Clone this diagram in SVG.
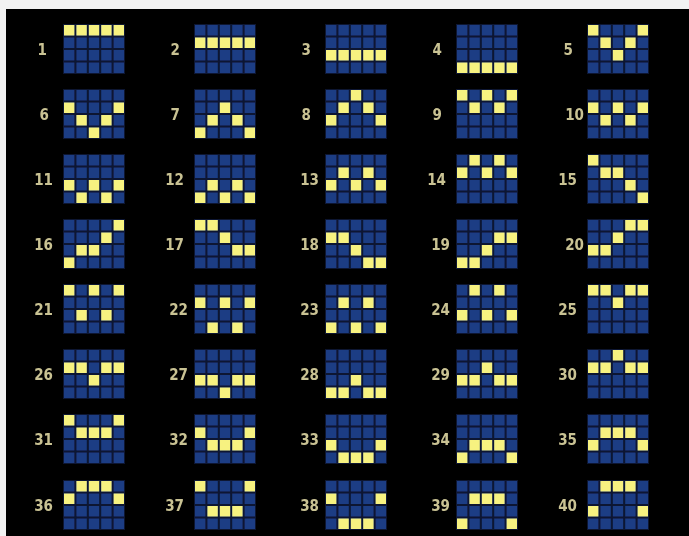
<svg xmlns="http://www.w3.org/2000/svg" xmlns:xlink="http://www.w3.org/1999/xlink" width="689" height="536" viewBox="0 0 689 536">
<style>
.bg{fill:#000000}
.frame{fill:#0a1430}
.cell{fill:#1f3d84}
.on{fill:#f7f280}
.lbl{font-family:"DejaVu Sans Condensed","Liberation Sans",sans-serif;font-size:15px;font-weight:bold;fill:#c9c293;text-anchor:end}
</style>
<defs>
<filter id="soft" x="-5%" y="-5%" width="110%" height="110%"><feGaussianBlur stdDeviation="0.7"/></filter>
<rect id="on" class="on" width="10.4" height="10.5"/>
<g id="grid">
<rect class="frame" x="0" y="0" width="62" height="50"/>
<g class="cell">
<rect x="1" y="1" width="10.4" height="10.5"/><rect x="13.4" y="1" width="10.4" height="10.5"/><rect x="25.8" y="1" width="10.4" height="10.5"/><rect x="38.2" y="1" width="10.4" height="10.5"/><rect x="50.6" y="1" width="10.4" height="10.5"/>
<rect x="1" y="13.5" width="10.4" height="10.5"/><rect x="13.4" y="13.5" width="10.4" height="10.5"/><rect x="25.8" y="13.5" width="10.4" height="10.5"/><rect x="38.2" y="13.5" width="10.4" height="10.5"/><rect x="50.6" y="13.5" width="10.4" height="10.5"/>
<rect x="1" y="26" width="10.4" height="10.5"/><rect x="13.4" y="26" width="10.4" height="10.5"/><rect x="25.8" y="26" width="10.4" height="10.5"/><rect x="38.2" y="26" width="10.4" height="10.5"/><rect x="50.6" y="26" width="10.4" height="10.5"/>
<rect x="1" y="38.5" width="10.4" height="10.5"/><rect x="13.4" y="38.5" width="10.4" height="10.5"/><rect x="25.8" y="38.5" width="10.4" height="10.5"/><rect x="38.2" y="38.5" width="10.4" height="10.5"/><rect x="50.6" y="38.5" width="10.4" height="10.5"/>
</g>
</g>
</defs>
<rect x="0" y="0" width="689" height="536" fill="#f2f2f2"/>
<rect class="bg" x="6" y="9" width="683" height="527"/>
<g id="connectors"/>
<g filter="url(#soft)">
<g id="line-1" transform="translate(63,24)"><use href="#grid"/><use href="#on" x="1" y="1"/><use href="#on" x="13.4" y="1"/><use href="#on" x="25.8" y="1"/><use href="#on" x="38.2" y="1"/><use href="#on" x="50.6" y="1"/><text class="lbl" x="-16" y="31">1</text></g>
<g id="line-2" transform="translate(194,24)"><use href="#grid"/><use href="#on" x="1" y="13.5"/><use href="#on" x="13.4" y="13.5"/><use href="#on" x="25.8" y="13.5"/><use href="#on" x="38.2" y="13.5"/><use href="#on" x="50.6" y="13.5"/><text class="lbl" x="-14" y="31">2</text></g>
<g id="line-3" transform="translate(325,24)"><use href="#grid"/><use href="#on" x="1" y="26"/><use href="#on" x="13.4" y="26"/><use href="#on" x="25.8" y="26"/><use href="#on" x="38.2" y="26"/><use href="#on" x="50.6" y="26"/><text class="lbl" x="-14" y="31">3</text></g>
<g id="line-4" transform="translate(456,24)"><use href="#grid"/><use href="#on" x="1" y="38.5"/><use href="#on" x="13.4" y="38.5"/><use href="#on" x="25.8" y="38.5"/><use href="#on" x="38.2" y="38.5"/><use href="#on" x="50.6" y="38.5"/><text class="lbl" x="-14" y="31">4</text></g>
<g id="line-5" transform="translate(587,24)"><use href="#grid"/><use href="#on" x="1" y="1"/><use href="#on" x="13.4" y="13.5"/><use href="#on" x="25.8" y="26"/><use href="#on" x="38.2" y="13.5"/><use href="#on" x="50.6" y="1"/><text class="lbl" x="-14" y="31">5</text></g>

<g id="line-6" transform="translate(63,89)"><use href="#grid"/><use href="#on" x="1" y="13.5"/><use href="#on" x="13.4" y="26"/><use href="#on" x="25.8" y="38.5"/><use href="#on" x="38.2" y="26"/><use href="#on" x="50.6" y="13.5"/><text class="lbl" x="-14" y="31">6</text></g>
<g id="line-7" transform="translate(194,89)"><use href="#grid"/><use href="#on" x="1" y="38.5"/><use href="#on" x="13.4" y="26"/><use href="#on" x="25.8" y="13.5"/><use href="#on" x="38.2" y="26"/><use href="#on" x="50.6" y="38.5"/><text class="lbl" x="-14" y="31">7</text></g>
<g id="line-8" transform="translate(325,89)"><use href="#grid"/><use href="#on" x="1" y="26"/><use href="#on" x="13.4" y="13.5"/><use href="#on" x="25.8" y="1"/><use href="#on" x="38.2" y="13.5"/><use href="#on" x="50.6" y="26"/><text class="lbl" x="-14" y="31">8</text></g>
<g id="line-9" transform="translate(456,89)"><use href="#grid"/><use href="#on" x="1" y="1"/><use href="#on" x="13.4" y="13.5"/><use href="#on" x="25.8" y="1"/><use href="#on" x="38.2" y="13.5"/><use href="#on" x="50.6" y="1"/><text class="lbl" x="-14" y="31">9</text></g>
<g id="line-10" transform="translate(587,89)"><use href="#grid"/><use href="#on" x="1" y="13.5"/><use href="#on" x="13.4" y="26"/><use href="#on" x="25.8" y="13.5"/><use href="#on" x="38.2" y="26"/><use href="#on" x="50.6" y="13.5"/><text class="lbl" x="-3" y="31">10</text></g>

<g id="line-11" transform="translate(63,154)"><use href="#grid"/><use href="#on" x="1" y="26"/><use href="#on" x="13.4" y="38.5"/><use href="#on" x="25.8" y="26"/><use href="#on" x="38.2" y="38.5"/><use href="#on" x="50.6" y="26"/><text class="lbl" x="-10" y="31">11</text></g>
<g id="line-12" transform="translate(194,154)"><use href="#grid"/><use href="#on" x="1" y="38.5"/><use href="#on" x="13.4" y="26"/><use href="#on" x="25.8" y="38.5"/><use href="#on" x="38.2" y="26"/><use href="#on" x="50.6" y="38.5"/><text class="lbl" x="-10" y="31">12</text></g>
<g id="line-13" transform="translate(325,154)"><use href="#grid"/><use href="#on" x="1" y="26"/><use href="#on" x="13.4" y="13.5"/><use href="#on" x="25.8" y="26"/><use href="#on" x="38.2" y="13.5"/><use href="#on" x="50.6" y="26"/><text class="lbl" x="-6" y="31">13</text></g>
<g id="line-14" transform="translate(456,154)"><use href="#grid"/><use href="#on" x="1" y="13.5"/><use href="#on" x="13.4" y="1"/><use href="#on" x="25.8" y="13.5"/><use href="#on" x="38.2" y="1"/><use href="#on" x="50.6" y="13.5"/><text class="lbl" x="-10" y="31">14</text></g>
<g id="line-15" transform="translate(587,154)"><use href="#grid"/><use href="#on" x="1" y="1"/><use href="#on" x="13.4" y="13.5"/><use href="#on" x="25.8" y="13.5"/><use href="#on" x="38.2" y="26"/><use href="#on" x="50.6" y="38.5"/><text class="lbl" x="-10" y="31">15</text></g>

<g id="line-16" transform="translate(63,219)"><use href="#grid"/><use href="#on" x="1" y="38.5"/><use href="#on" x="13.4" y="26"/><use href="#on" x="25.8" y="26"/><use href="#on" x="38.2" y="13.5"/><use href="#on" x="50.6" y="1"/><text class="lbl" x="-10" y="31">16</text></g>
<g id="line-17" transform="translate(194,219)"><use href="#grid"/><use href="#on" x="1" y="1"/><use href="#on" x="13.4" y="1"/><use href="#on" x="25.8" y="13.5"/><use href="#on" x="38.2" y="26"/><use href="#on" x="50.6" y="26"/><text class="lbl" x="-10" y="31">17</text></g>
<g id="line-18" transform="translate(325,219)"><use href="#grid"/><use href="#on" x="1" y="13.5"/><use href="#on" x="13.4" y="13.5"/><use href="#on" x="25.8" y="26"/><use href="#on" x="38.2" y="38.5"/><use href="#on" x="50.6" y="38.5"/><text class="lbl" x="-6" y="31">18</text></g>
<g id="line-19" transform="translate(456,219)"><use href="#grid"/><use href="#on" x="1" y="38.5"/><use href="#on" x="13.4" y="38.5"/><use href="#on" x="25.8" y="26"/><use href="#on" x="38.2" y="13.5"/><use href="#on" x="50.6" y="13.5"/><text class="lbl" x="-6" y="31">19</text></g>
<g id="line-20" transform="translate(587,219)"><use href="#grid"/><use href="#on" x="1" y="26"/><use href="#on" x="13.4" y="26"/><use href="#on" x="25.8" y="13.5"/><use href="#on" x="38.2" y="1"/><use href="#on" x="50.6" y="1"/><text class="lbl" x="-3" y="31">20</text></g>

<g id="line-21" transform="translate(63,284)"><use href="#grid"/><use href="#on" x="1" y="1"/><use href="#on" x="13.4" y="26"/><use href="#on" x="25.8" y="1"/><use href="#on" x="38.2" y="26"/><use href="#on" x="50.6" y="1"/><text class="lbl" x="-10" y="31">21</text></g>
<g id="line-22" transform="translate(194,284)"><use href="#grid"/><use href="#on" x="1" y="13.5"/><use href="#on" x="13.4" y="38.5"/><use href="#on" x="25.8" y="13.5"/><use href="#on" x="38.2" y="38.5"/><use href="#on" x="50.6" y="13.5"/><text class="lbl" x="-6" y="31">22</text></g>
<g id="line-23" transform="translate(325,284)"><use href="#grid"/><use href="#on" x="1" y="38.5"/><use href="#on" x="13.4" y="13.5"/><use href="#on" x="25.8" y="38.5"/><use href="#on" x="38.2" y="13.5"/><use href="#on" x="50.6" y="38.5"/><text class="lbl" x="-6" y="31">23</text></g>
<g id="line-24" transform="translate(456,284)"><use href="#grid"/><use href="#on" x="1" y="26"/><use href="#on" x="13.4" y="1"/><use href="#on" x="25.8" y="26"/><use href="#on" x="38.2" y="1"/><use href="#on" x="50.6" y="26"/><text class="lbl" x="-6" y="31">24</text></g>
<g id="line-25" transform="translate(587,284)"><use href="#grid"/><use href="#on" x="1" y="1"/><use href="#on" x="13.4" y="1"/><use href="#on" x="25.8" y="13.5"/><use href="#on" x="38.2" y="1"/><use href="#on" x="50.6" y="1"/><text class="lbl" x="-10" y="31">25</text></g>

<g id="line-26" transform="translate(63,349)"><use href="#grid"/><use href="#on" x="1" y="13.5"/><use href="#on" x="13.4" y="13.5"/><use href="#on" x="25.8" y="26"/><use href="#on" x="38.2" y="13.5"/><use href="#on" x="50.6" y="13.5"/><text class="lbl" x="-10" y="31">26</text></g>
<g id="line-27" transform="translate(194,349)"><use href="#grid"/><use href="#on" x="1" y="26"/><use href="#on" x="13.4" y="26"/><use href="#on" x="25.8" y="38.5"/><use href="#on" x="38.2" y="26"/><use href="#on" x="50.6" y="26"/><text class="lbl" x="-6" y="31">27</text></g>
<g id="line-28" transform="translate(325,349)"><use href="#grid"/><use href="#on" x="1" y="38.5"/><use href="#on" x="13.4" y="38.5"/><use href="#on" x="25.8" y="26"/><use href="#on" x="38.2" y="38.5"/><use href="#on" x="50.6" y="38.5"/><text class="lbl" x="-6" y="31">28</text></g>
<g id="line-29" transform="translate(456,349)"><use href="#grid"/><use href="#on" x="1" y="26"/><use href="#on" x="13.4" y="26"/><use href="#on" x="25.8" y="13.5"/><use href="#on" x="38.2" y="26"/><use href="#on" x="50.6" y="26"/><text class="lbl" x="-6" y="31">29</text></g>
<g id="line-30" transform="translate(587,349)"><use href="#grid"/><use href="#on" x="1" y="13.5"/><use href="#on" x="13.4" y="13.5"/><use href="#on" x="25.8" y="1"/><use href="#on" x="38.2" y="13.5"/><use href="#on" x="50.6" y="13.5"/><text class="lbl" x="-10" y="31">30</text></g>

<g id="line-31" transform="translate(63,414)"><use href="#grid"/><use href="#on" x="1" y="1"/><use href="#on" x="13.4" y="13.5"/><use href="#on" x="25.8" y="13.5"/><use href="#on" x="38.2" y="13.5"/><use href="#on" x="50.6" y="1"/><text class="lbl" x="-10" y="31">31</text></g>
<g id="line-32" transform="translate(194,414)"><use href="#grid"/><use href="#on" x="1" y="13.5"/><use href="#on" x="13.4" y="26"/><use href="#on" x="25.8" y="26"/><use href="#on" x="38.2" y="26"/><use href="#on" x="50.6" y="13.5"/><text class="lbl" x="-6" y="31">32</text></g>
<g id="line-33" transform="translate(325,414)"><use href="#grid"/><use href="#on" x="1" y="26"/><use href="#on" x="13.4" y="38.5"/><use href="#on" x="25.8" y="38.5"/><use href="#on" x="38.2" y="38.5"/><use href="#on" x="50.6" y="26"/><text class="lbl" x="-6" y="31">33</text></g>
<g id="line-34" transform="translate(456,414)"><use href="#grid"/><use href="#on" x="1" y="38.5"/><use href="#on" x="13.4" y="26"/><use href="#on" x="25.8" y="26"/><use href="#on" x="38.2" y="26"/><use href="#on" x="50.6" y="38.5"/><text class="lbl" x="-6" y="31">34</text></g>
<g id="line-35" transform="translate(587,414)"><use href="#grid"/><use href="#on" x="1" y="26"/><use href="#on" x="13.4" y="13.5"/><use href="#on" x="25.8" y="13.5"/><use href="#on" x="38.2" y="13.5"/><use href="#on" x="50.6" y="26"/><text class="lbl" x="-10" y="31">35</text></g>

<g id="line-36" transform="translate(63,480)"><use href="#grid"/><use href="#on" x="1" y="13.5"/><use href="#on" x="13.4" y="1"/><use href="#on" x="25.8" y="1"/><use href="#on" x="38.2" y="1"/><use href="#on" x="50.6" y="13.5"/><text class="lbl" x="-10" y="31">36</text></g>
<g id="line-37" transform="translate(194,480)"><use href="#grid"/><use href="#on" x="1" y="1"/><use href="#on" x="13.4" y="26"/><use href="#on" x="25.8" y="26"/><use href="#on" x="38.2" y="26"/><use href="#on" x="50.6" y="1"/><text class="lbl" x="-10" y="31">37</text></g>
<g id="line-38" transform="translate(325,480)"><use href="#grid"/><use href="#on" x="1" y="13.5"/><use href="#on" x="13.4" y="38.5"/><use href="#on" x="25.8" y="38.5"/><use href="#on" x="38.2" y="38.5"/><use href="#on" x="50.6" y="13.5"/><text class="lbl" x="-6" y="31">38</text></g>
<g id="line-39" transform="translate(456,480)"><use href="#grid"/><use href="#on" x="1" y="38.5"/><use href="#on" x="13.4" y="13.5"/><use href="#on" x="25.8" y="13.5"/><use href="#on" x="38.2" y="13.5"/><use href="#on" x="50.6" y="38.5"/><text class="lbl" x="-6" y="31">39</text></g>
<g id="line-40" transform="translate(587,480)"><use href="#grid"/><use href="#on" x="1" y="26"/><use href="#on" x="13.4" y="1"/><use href="#on" x="25.8" y="1"/><use href="#on" x="38.2" y="1"/><use href="#on" x="50.6" y="26"/><text class="lbl" x="-10" y="31">40</text></g>
</g>
</svg>
